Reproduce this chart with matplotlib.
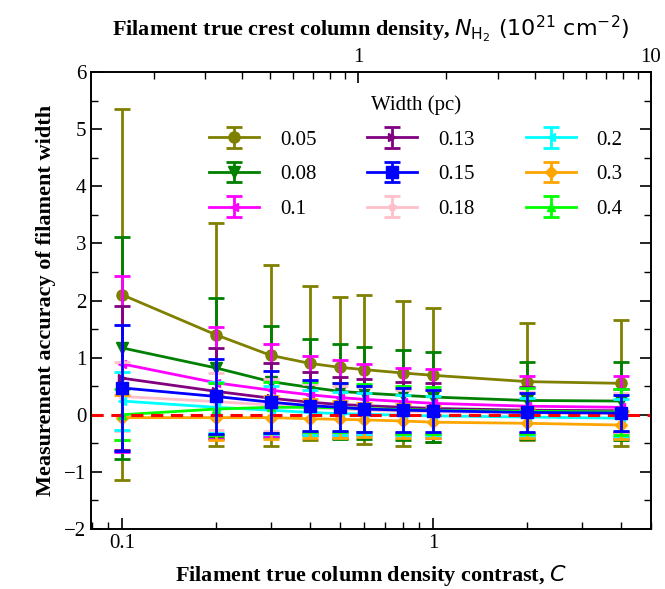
import matplotlib
matplotlib.use("Agg")
import matplotlib.pyplot as plt
from matplotlib.ticker import FixedLocator, NullFormatter, FixedFormatter, LogLocator, MultipleLocator

# ---- data ----
contrast = [0.1, 0.2, 0.3, 0.4, 0.5, 0.6, 0.8, 1.0, 2.0, 4.0]
widths = ["0.05", "0.08", "0.1", "0.13", "0.15", "0.18", "0.2", "0.3", "0.4"]

acc_005 = [2.10, 1.40, 1.04, 0.90, 0.83, 0.79, 0.73, 0.69, 0.58, 0.55]
err_005 = [3.25, 1.95, 1.58, 1.35, 1.23, 1.30, 1.27, 1.17, 1.03, 1.10]
acc_008 = [1.17, 0.82, 0.58, 0.48, 0.41, 0.38, 0.34, 0.31, 0.25, 0.24]
err_008 = [1.95, 1.22, 0.97, 0.84, 0.83, 0.80, 0.79, 0.78, 0.68, 0.68]
acc_010 = [0.89, 0.56, 0.43, 0.35, 0.30, 0.27, 0.23, 0.20, 0.15, 0.13]
err_010 = [1.54, 0.98, 0.80, 0.68, 0.65, 0.62, 0.58, 0.60, 0.52, 0.54]
acc_013 = [0.64, 0.41, 0.29, 0.22, 0.18, 0.16, 0.13, 0.11, 0.08, 0.07]
err_013 = [1.26, 0.76, 0.61, 0.52, 0.48, 0.46, 0.45, 0.44, 0.40, 0.38]
acc_015 = [0.47, 0.32, 0.22, 0.16, 0.13, 0.10, 0.08, 0.07, 0.04, 0.03]
err_015 = [1.10, 0.66, 0.54, 0.45, 0.42, 0.40, 0.38, 0.37, 0.34, 0.32]
acc_018 = [0.32, 0.23, 0.17, 0.12, 0.10, 0.08, 0.06, 0.05, 0.03, 0.02]
err_018 = [0.60, 0.50, 0.45, 0.42, 0.40, 0.40, 0.38, 0.38, 0.36, 0.36]
acc_020 = [0.24, 0.13, 0.08, 0.04, 0.02, 0.01, -0.01, -0.02, -0.04, -0.06]
err_020 = [0.50, 0.45, 0.42, 0.40, 0.38, 0.37, 0.36, 0.35, 0.34, 0.33]
acc_030 = [-0.05, -0.05, -0.05, -0.07, -0.08, -0.09, -0.11, -0.13, -0.15, -0.18]
err_030 = [0.40, 0.40, 0.38, 0.34, 0.32, 0.30, 0.29, 0.28, 0.26, 0.25]
acc_040 = [0.00, 0.10, 0.13, 0.13, 0.12, 0.11, 0.09, 0.08, 0.06, 0.05]
err_040 = [0.45, 0.45, 0.45, 0.44, 0.43, 0.42, 0.42, 0.41, 0.40, 0.40]

series_acc = [acc_005, acc_008, acc_010, acc_013, acc_015, acc_018, acc_020, acc_030, acc_040]
series_err = [err_005, err_008, err_010, err_013, err_015, err_018, err_020, err_030, err_040]
colors = ["olive", "green", "magenta", "purple", "blue", "pink", "cyan", "orange", "lime"]
markers = ["o", "v", "<", ">", "s", "p", "<", "D", "^"]
msizes = [8, 8, 6, 6, 8, 6, 6, 6, 6]
zorders = [3, 3.1, 3.2, 3.3, 4.5, 3.5, 3.6, 3.7, 3.8]

x_ticks = [0.1, 1]
x_ticklabels = ["0.1", "1"]
top_ticks = [1, 10]
top_ticklabels = ["1", "10"]

plt.rcParams["font.family"] = ["Liberation Serif", "DejaVu Serif"]
plt.rcParams["mathtext.fontset"] = "dejavusans"

fig = plt.figure(figsize=(6.65, 5.89), dpi=100)
ax = fig.add_axes([91 / 665, 1 - 529 / 589, 560 / 665, 457 / 589])

for acc, err, c, m, ms, zo, lab in zip(series_acc, series_err, colors, markers, msizes, zorders, widths):
    ax.errorbar(contrast, acc, yerr=err, color=c, marker=m, markersize=ms, lw=2.0,
                elinewidth=2.0, capsize=6, capthick=2.0, label=lab, zorder=zo)

ax.axhline(0, color="red", ls="--", lw=2.2, dashes=(4, 2.5), zorder=4)

ax.set_xscale("log")
ax.set_xlim(0.0794, 5.0)
ax.set_ylim(-2, 6)
ax.xaxis.set_major_locator(FixedLocator(x_ticks))
ax.xaxis.set_major_formatter(FixedFormatter(x_ticklabels))
ax.xaxis.set_minor_locator(LogLocator(base=10, subs=range(2, 10)))
ax.xaxis.set_minor_formatter(NullFormatter())
ax.yaxis.set_major_locator(MultipleLocator(1))
ax.yaxis.set_minor_locator(MultipleLocator(0.5))
ax.tick_params(which="both", direction="in", top=False, right=True, labelsize=15)
ax.tick_params(which="major", length=8, width=1.2)
ax.tick_params(which="minor", length=5, width=1.0)

ax.set_xlabel(r"Filament true column density contrast, $\it{C}$", fontsize=16, fontweight="bold", labelpad=7)
ax.set_ylabel("Measurement accuracy of filament width", fontsize=16, fontweight="bold", labelpad=6)

ax2 = ax.twiny()
ax2.set_xscale("log")
ax2.set_xlim(0.122, 10)
ax2.xaxis.set_major_locator(FixedLocator(top_ticks))
ax2.xaxis.set_major_formatter(FixedFormatter(top_ticklabels))
ax2.xaxis.set_minor_locator(LogLocator(base=10, subs=range(2, 10)))
ax2.xaxis.set_minor_formatter(NullFormatter())
ax2.tick_params(which="both", direction="in", labelsize=15)
ax2.tick_params(which="major", length=8, width=1.2)
ax2.tick_params(which="minor", length=5, width=1.0)
ax2.set_xlabel(r"Filament true crest column density, $N_{\mathrm{H_2}}\ (10^{21}\ \mathrm{cm^{-2}})$",
               fontsize=16, fontweight="bold", labelpad=9)

for a in (ax, ax2):
    for s in a.spines.values():
        s.set_linewidth(1.2)

leg = ax.legend(ncol=3, loc="upper center", bbox_to_anchor=(0.58, 0.99), frameon=False,
                title="Width (pc)", fontsize=15, title_fontsize=15, handlelength=2.4,
                columnspacing=2.45, labelspacing=0.72, handletextpad=1.0)

fig.savefig("out.png", dpi=100)
